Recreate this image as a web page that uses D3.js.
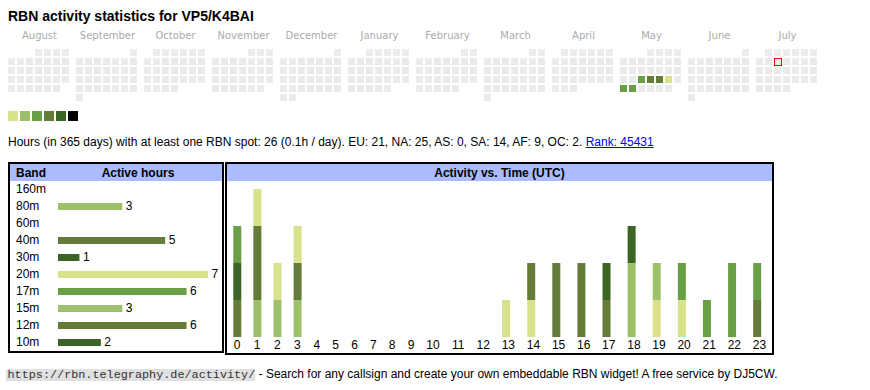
<!DOCTYPE html>
<html><head><meta charset="utf-8">
<script src="https://cdn.jsdelivr.net/npm/d3@7"></script>
<style>body{margin:0;background:#fff}svg{display:block}text{white-space:pre}</style>
</head><body><svg id="c" width="870" height="390"></svg>
<script>
// ---------- data ----------
const titleText = "RBN activity statistics for VP5/K4BAI";
const monthNames = ["August","September","October","November","December","January","February","March","April","May","June","July"];
const periodStart = "2024-08-01";
const periodEnd = "2025-07-31";
const todayDate = "2025-07-09";
const activeDays = ["2025-05-21","2025-05-22","2025-05-23","2025-05-24","2025-05-26","2025-05-27"];
const activeDayLevels = [3,4,4,1,3,3];
const palette = ["#dae18b","#9dc16a","#69a046","#647b3a","#3b6425","#000000"];
const statsText = "Hours (in 365 days) with at least one RBN spot: 26 (0.1h / day). EU: 21, NA: 25, AS: 0, SA: 14, AF: 9, OC: 2. ";
const rankText = "Rank: 45431";
const footerUrl = "https://rbn.telegraphy.de/activity/";
const footerText = " - Search for any callsign and create your own embeddable RBN widget! A free service by DJ5CW.";
const bands = ["160m","80m","60m","40m","30m","20m","17m","15m","12m","10m"];
const bandHours = [0,3,0,5,1,7,6,3,6,2];
const bandColorLevel = [1,2,3,4,5,1,3,2,4,5];
const hourLabels = ["0","1","2","3","4","5","6","7","8","9","10","11","12","13","14","15","16","17","18","19","20","21","22","23"];
const h160m = [0,0,0,0,0,0,0,0,0,0,0,0,0,0,0,0,0,0,0,0,0,0,0,0];
const h80m  = [0,1,1,1,0,0,0,0,0,0,0,0,0,0,0,0,0,0,0,0,0,0,0,0];
const h60m  = [0,0,0,0,0,0,0,0,0,0,0,0,0,0,0,0,0,0,0,0,0,0,0,0];
const h40m  = [1,2,0,1,0,0,0,0,0,0,0,0,0,0,0,0,0,0,0,0,0,0,0,1];
const h30m  = [1,0,0,0,0,0,0,0,0,0,0,0,0,0,0,0,0,0,0,0,0,0,0,0];
const h20m  = [0,1,1,1,0,0,0,0,0,0,0,0,0,1,1,0,0,0,0,1,1,0,0,0];
const h17m  = [1,0,0,0,0,0,0,0,0,0,0,0,0,0,0,0,0,0,0,0,1,1,2,1];
const h15m  = [0,0,0,0,0,0,0,0,0,0,0,0,0,0,0,0,0,0,2,1,0,0,0,0];
const h12m  = [0,0,0,0,0,0,0,0,0,0,0,0,0,0,1,2,2,1,0,0,0,0,0,0];
const h10m  = [0,0,0,0,0,0,0,0,0,0,0,0,0,0,0,0,0,1,1,0,0,0,0,0];
const hourlyByBand = [h160m,h80m,h60m,h40m,h30m,h20m,h17m,h15m,h12m,h10m];

// ---------- drawing ----------
const svg = d3.select("#c");
const SANS = "'Liberation Sans', Arial, sans-serif";
svg.append("rect").attr("width",870).attr("height",390).attr("fill","#fff");
const parse = d3.timeParse("%Y-%m-%d");
const fmt = d3.timeFormat("%Y-%m-%d");
const bandColor = d3.scaleOrdinal(bands, bandColorLevel.map(l => palette[l-1]));

svg.append("text").attr("x",8).attr("y",21).attr("font-family",SANS)
  .attr("font-size",14).attr("font-weight","bold").attr("fill","#000").text(titleText);

// calendar
const monthX = d3.scaleBand().domain(monthNames).range([8, 819]).paddingInner(5/68);
const colX = d3.scaleBand().domain(d3.range(7)).range([0, 61]).paddingInner(2/9);
const rowY = d3.scaleBand().domain(d3.range(6)).range([49, 101]).paddingInner(2/9);
svg.append("g").selectAll("text").data(monthNames).join("text")
  .attr("x", m => monthX(m) + monthX.bandwidth()/2).attr("y", 39)
  .attr("text-anchor","middle").attr("font-family","'DejaVu Sans', Verdana, sans-serif")
  .attr("font-size",10).attr("fill","#aaa").text(m => m);
const start = parse(periodStart);
const days = d3.timeDay.range(start, d3.timeDay.offset(parse(periodEnd), 1));
const levelByDay = new Map(activeDays.map((d,i) => [d, activeDayLevels[i]]));
function dayPos(d) {
  const mStart = d3.timeMonth(d);
  const mi = d3.timeMonth.count(start, mStart);
  return {x: monthX(monthNames[mi]) + colX((d.getDay()+6)%7), y: rowY(d3.timeMonday.count(mStart, d))};
}
svg.append("g").selectAll("rect").data(days).join("rect")
  .attr("x", d => dayPos(d).x).attr("y", d => dayPos(d).y)
  .attr("width", colX.bandwidth()).attr("height", rowY.bandwidth())
  .attr("fill", d => levelByDay.has(fmt(d)) ? palette[levelByDay.get(fmt(d))-1] : "#ebebeb");
const tp = dayPos(parse(todayDate));
svg.append("rect").attr("x", tp.x+0.5).attr("y", tp.y+0.5).attr("width", colX.bandwidth())
  .attr("height", rowY.bandwidth()).attr("fill","none").attr("stroke","#f00").attr("stroke-width",1);

// legend
const legX = d3.scaleBand().domain(d3.range(palette.length)).range([8, 78]).paddingInner(2/12);
svg.append("g").selectAll("rect").data(palette).join("rect")
  .attr("x",(c,i)=>legX(i)).attr("y",111).attr("width",legX.bandwidth()).attr("height",10).attr("fill",c=>c);

// stats line
const st = svg.append("text").attr("x",8).attr("y",146).attr("font-family",SANS).attr("font-size",12).attr("fill","#000").text(statsText);
const stLen = st.node().getComputedTextLength();
const rk = svg.append("text").attr("x",8+stLen).attr("y",146).attr("font-family",SANS).attr("font-size",12).attr("fill","#0000ee").text(rankText);
const rkLen = rk.node().getComputedTextLength();
svg.append("line").attr("x1",8+stLen).attr("x2",8+stLen+rkLen).attr("y1",147.5).attr("y2",147.5).attr("stroke","#0000ee").attr("stroke-width",1);

// left table
const headBg = "#aabbff";
svg.append("rect").attr("x",10).attr("y",164).attr("width",212).attr("height",17).attr("fill",headBg);
svg.append("rect").attr("x",9).attr("y",163).attr("width",214).attr("height",189).attr("fill","none").attr("stroke","#000").attr("stroke-width",2);
svg.append("text").attr("x",16).attr("y",177).attr("font-family",SANS).attr("font-size",12).attr("font-weight","bold").text("Band");
svg.append("text").attr("x",138).attr("y",177).attr("text-anchor","middle").attr("font-family",SANS).attr("font-size",12).attr("font-weight","bold").text("Active hours");
const rowBand = d3.scaleBand().domain(bands).range([181, 351]);
const bandX = d3.scaleLinear().domain([0, d3.max(bandHours)]).range([58, 208]);
const lt = svg.append("g");
lt.selectAll("text.b").data(bands).join("text").attr("class","b")
  .attr("x",16).attr("y",b => rowBand(b)+12.3).attr("font-family",SANS).attr("font-size",12).text(b=>b);
const bandData = bands.map((b,i)=>({band:b, v:bandHours[i]})).filter(d=>d.v>0);
lt.selectAll("rect").data(bandData).join("rect")
  .attr("x",bandX(0)).attr("y",d=>rowBand(d.band)+5).attr("width",d=>bandX(d.v)-bandX(0)).attr("height",7)
  .attr("fill",d=>bandColor(d.band));
lt.selectAll("text.v").data(bandData).join("text").attr("class","v")
  .attr("x",d=>bandX(d.v)+3.5).attr("y",d=>rowBand(d.band)+12.3).attr("font-family",SANS).attr("font-size",12).text(d=>d.v);

// right table
svg.append("rect").attr("x",227).attr("y",164).attr("width",545).attr("height",17).attr("fill",headBg);
svg.append("rect").attr("x",226).attr("y",163).attr("width",547).attr("height",191).attr("fill","none").attr("stroke","#000").attr("stroke-width",2);
svg.append("text").attr("x",499.5).attr("y",177).attr("text-anchor","middle").attr("font-family",SANS).attr("font-size",12).attr("font-weight","bold").text("Activity vs. Time (UTC)");

const hourRows = hourLabels.map((h,i)=>{ const o={hour:h}; bands.forEach((b,j)=>o[b]=hourlyByBand[j][i]); return o; });
const totals = hourRows.map(r => d3.sum(bands, b => r[b]));
const barW = 8, cellPad = 6.7, digitW = 6.67;
const weights = hourLabels.map((h,i)=> Math.max(totals[i]>0?barW:0, h.length*digitW) + 2*cellPad);
const innerL = 227, innerR = 772;
const k = (innerR-innerL)/d3.sum(weights);
const lefts = d3.cumsum([0, ...weights]).slice(0,-1).map(v => innerL + v*k);
const colLeft = d3.scaleOrdinal(hourLabels, lefts);
const colWidth = d3.scaleOrdinal(hourLabels, weights.map(w=>w*k));
const yScale = d3.scaleLinear().domain([0, d3.max(totals)]).range([337, 189]);
const stacked = d3.stack().keys(bands)(hourRows);
svg.append("g").selectAll("g").data(stacked).join("g").attr("fill", s => bandColor(s.key))
  .selectAll("rect").data(s => s.filter(d => d[1]-d[0] > 0)).join("rect")
  .attr("x", d => colLeft(d.data.hour) + cellPad*k).attr("width", barW)
  .attr("y", d => yScale(d[1])).attr("height", d => yScale(d[0]) - yScale(d[1]));
svg.append("g").selectAll("text").data(hourLabels).join("text")
  .attr("x", h => colLeft(h) + colWidth(h)/2).attr("y", 349.3).attr("text-anchor","middle")
  .attr("font-family",SANS).attr("font-size",12).attr("fill","#000").text(h=>h);

// footer
const fg = svg.append("g");
const fbg = fg.append("rect").attr("x",6).attr("y",369).attr("height",12).attr("fill","#e0e0e0");
const ft = fg.append("text").attr("x",7.5).attr("y",378).attr("font-family","'Liberation Mono', 'Courier New', monospace")
  .attr("font-size",11.8).attr("fill","#333").text(footerUrl);
const ftLen = ft.node().getComputedTextLength();
fbg.attr("width", ftLen + 1.5);
fg.append("text").attr("x",7.5+ftLen).attr("y",378).attr("font-family",SANS).attr("font-size",12).attr("fill","#000").text(footerText);
</script></body></html>
